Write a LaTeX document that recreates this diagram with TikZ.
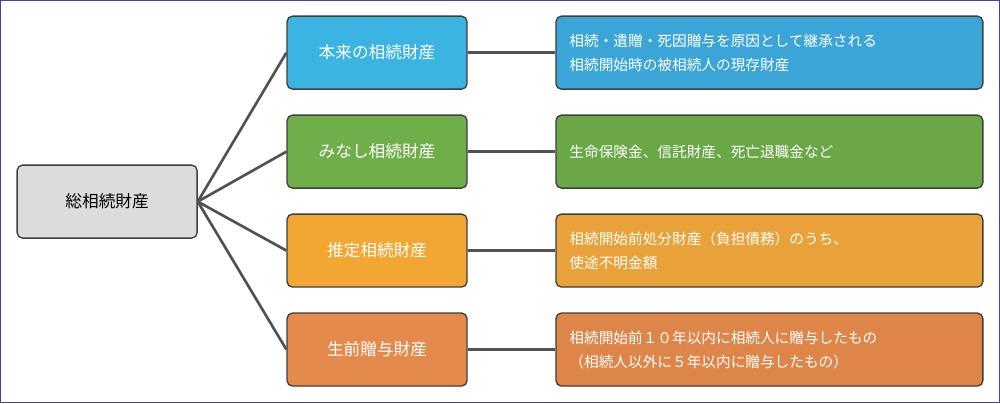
\documentclass[tikz,border=0pt]{standalone}
\usepackage{fontspec}
\newfontfamily\cjk{Noto Sans CJK JP}
\definecolor{cb}{HTML}{3CB4E2}\definecolor{cbd}{HTML}{3AA5D6}
\definecolor{cg}{HTML}{6FAF4A}\definecolor{cgd}{HTML}{6AA847}
\definecolor{co}{HTML}{F2A733}\definecolor{cod}{HTML}{E9A139}
\definecolor{cr}{HTML}{E48A4C}\definecolor{crd}{HTML}{DE8549}
\definecolor{cgr}{HTML}{DCDCDC}\definecolor{edge}{HTML}{3F3F3F}
\begin{document}
\begin{tikzpicture}[x=0.75pt,y=-0.75pt,
 box/.style={draw=edge,line width=1pt,rounded corners=4pt,inner sep=0pt,font=\cjk\fontsize{12.5}{15}\selectfont,text=white},
 mid/.style={box,minimum width=135pt,minimum height=54.75pt},
 rt/.style={box,minimum width=320.25pt,minimum height=54.75pt,align=left,text width=300pt,font=\cjk\fontsize{11}{18}\selectfont},
 ln/.style={draw=edge!90,line width=2pt}]
\draw[draw=blue!50!gray,line width=1pt,fill=white] (0.5,0.5) rectangle (999.5,402.5);
\node[box,fill=cgr,text=black,minimum width=135pt,minimum height=54.75pt] (root) at (107,201.5) {総相続財産};
\node[mid,fill=cb] (m1) at (377,52.5) {本来の相続財産};
\node[mid,fill=cg] (m2) at (377,151.5) {みなし相続財産};
\node[mid,fill=co] (m3) at (377,250.5) {推定相続財産};
\node[mid,fill=cr] (m4) at (377,349.5) {生前贈与財産};
\node[rt,fill=cbd] (r1) at (769.5,52.5) {相続・遺贈・死因贈与を原因として継承される\\相続開始時の被相続人の現存財産};
\node[rt,fill=cgd] (r2) at (769.5,151.5) {生命保険金、信託財産、死亡退職金など};
\node[rt,fill=cod] (r3) at (769.5,250.5) {相続開始前処分財産（負担債務）のうち、\\使途不明金額};
\node[rt,fill=crd] (r4) at (769.5,349.5) {相続開始前１０年以内に相続人に贈与したもの\\（相続人以外に５年以内に贈与したもの）};
\foreach \i in {1,...,4}{
 \draw[ln] (root.east) -- (m\i.west);
 \draw[ln] (m\i.east) -- (r\i.west);}
\end{tikzpicture}
\end{document}
